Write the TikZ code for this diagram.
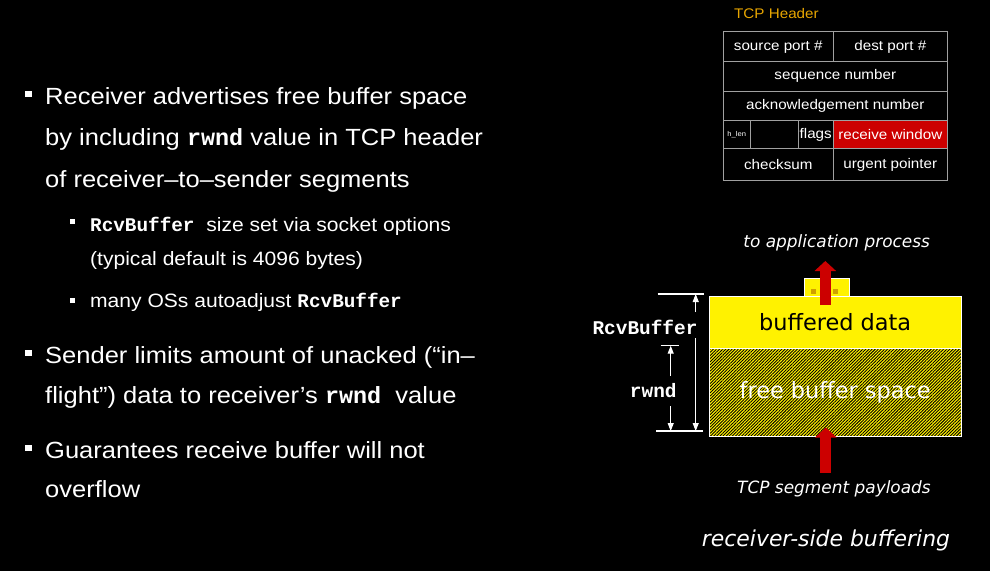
\documentclass[tikz,border=0pt]{standalone}
\usepackage{fontspec}
\setmainfont[FakeStretch=1.09]{Liberation Sans}
\setmonofont{Liberation Mono}
\newfontfamily\vfont{DejaVu Sans}
\usetikzlibrary{arrows.meta,patterns.meta}
\definecolor{hdrorange}{HTML}{E8A600}
\definecolor{winred}{HTML}{CC0000}
\definecolor{cellgray}{HTML}{A0A0A0}
\definecolor{dotgold}{HTML}{D0A000}
\newcommand{\kw}[1]{\textbf{\texttt{#1}}}

\begin{document}
\begin{tikzpicture}[x=1bp,y=-1bp,
  bodytext/.style={anchor=base west, inner sep=0, text=white, font=\fontsize{23.5}{28}\selectfont},
  subtext/.style={anchor=base west, inner sep=0, text=white, font=\fontsize{19.4}{24}\selectfont},
  bigbullet/.style={fill=white, inner sep=0, minimum size=6.5bp},
  smallbullet/.style={fill=white, inner sep=0, minimum size=5bp},
  hdrcell/.style={draw=cellgray, line width=0.8bp, inner sep=0, text=white, font=\fontsize{14}{16}\selectfont},
  vlabel/.style={text=white, inner sep=0, font=\vfont\itshape\fontsize{17}{20}\selectfont},
  dimlabel/.style={text=white, inner sep=0, font=\ttfamily\bfseries\fontsize{19.5}{22}\selectfont},
  dimline/.style={white, line width=1.2bp},
  dimarrow/.style={white, line width=1bp, -{Triangle[length=8bp,width=6bp]}},
  redarrow/.style={winred, line width=11bp, -{Triangle[length=10bp,width=21bp]}}]
\fill[black] (0,0) rectangle (990,571);
\useasboundingbox (0,0) rectangle (990,571);

% bullet list
\node[bigbullet] (b1) at (28.5,94) {};
\node[bodytext] (l1) at (45,105) {Receiver advertises free buffer space};
\node[bodytext] (l2) at (45,146) {by including \kw{rwnd} value in TCP header};
\node[bodytext] (l3) at (45,188) {of receiver–to–sender segments};
\node[smallbullet] (s1) at (72.5,221.5) {};
\node[subtext] (l4) at (90,232) {\kw{RcvBuffer}\ \ size set via socket options};
\node[subtext] (l5) at (90,266) {(typical default is 4096 bytes)};
\node[smallbullet] (s2) at (72.5,300) {};
\node[subtext] (l6) at (90,307) {many OSs autoadjust \kw{RcvBuffer}};
\node[bigbullet] (b2) at (28.5,353) {};
\node[bodytext] (l7) at (45,363) {Sender limits amount of unacked (“in–};
\node[bodytext] (l8) at (45,403) {flight”) data to receiver’s \kw{rwnd}\ \ value};
\node[bigbullet] (b3) at (28.5,448) {};
\node[bodytext] (l9) at (45,458) {Guarantees receive buffer will not};
\node[bodytext] (l10) at (45,497) {overflow};

% TCP header
\node[anchor=base west, inner sep=0, text=hdrorange, font=\fontsize{14}{16}\selectfont] (hdr) at (734,19) {TCP Header};
\node[hdrcell, minimum width=110bp, minimum height=30bp] (src) at (778.3,46.7) {source port \#};
\node[hdrcell, minimum width=114bp, minimum height=30bp] (dst) at (890.3,46.7) {dest port \#};
\node[hdrcell, minimum width=224bp, minimum height=29.3bp] (seq) at (835.3,76.3) {sequence number};
\node[hdrcell, minimum width=224bp, minimum height=29.3bp] (ack) at (835.3,105.7) {acknowledgement number};
\node[hdrcell, minimum width=26.7bp, minimum height=28.4bp, font=\fontsize{7}{8}\selectfont] (hlen) at (736.7,134.5) {h\_len};
\node[hdrcell, minimum width=48bp, minimum height=28.4bp] (unused) at (774,134.5) {};
\node[hdrcell, minimum width=35.3bp, minimum height=28.4bp] (flags) at (815.7,134.5) {flags};
\node[hdrcell, fill=winred, minimum width=114bp, minimum height=28.4bp] (rwin) at (890.3,134.5) {receive window};
\node[hdrcell, minimum width=110bp, minimum height=32bp] (chk) at (778.3,164.7) {checksum};
\node[hdrcell, minimum width=114bp, minimum height=32bp] (urg) at (890.3,164.7) {urgent pointer};

% receive buffer
\node[vlabel, anchor=base] (app) at (836.7,248) {to application process};
\node[draw=white, line width=0.8bp, fill=yellow, inner sep=0, minimum width=45.3bp, minimum height=17.7bp] (tab) at (826.7,287.2) {};
\node[fill=dotgold, inner sep=0, minimum size=5bp] (d1) at (813.5,291.5) {};
\node[fill=dotgold, inner sep=0, minimum size=5bp] (d2) at (835,291.5) {};
\node[draw=white, line width=0.8bp, fill=yellow, inner sep=0, minimum width=251.7bp, minimum height=52.3bp,
  font=\vfont\fontsize{22.5}{26}\selectfont] (buf) at (835.2,322.2) {buffered data};
\node[draw=white, line width=0.8bp, preaction={fill=yellow}, pattern={Lines[angle=45,distance=2.2bp,line width=0.9bp]}, pattern color=black,
  inner sep=0, minimum width=251.7bp, minimum height=87.7bp, text=white,
  font=\vfont\fontsize{22.5}{26}\selectfont] (free) at (835.2,392.2) {free buffer space};
\coordinate (upstart) at (825.3,305);
\coordinate (upend) at (825.3,261);
\draw[redarrow] (upstart) -- (upend);
\coordinate (instart) at (825.8,472.7);
\coordinate (inend) at (825.8,427.5);
\draw[redarrow] (instart) -- (inend);
\node[vlabel, anchor=base] (seg) at (834,493) {TCP segment payloads};
\node[vlabel, anchor=base, font=\vfont\itshape\fontsize{22}{26}\selectfont] (cap) at (826,546) {receiver-side buffering};

% RcvBuffer and rwnd
\node[dimlabel] (rcvlbl) at (645,327.3) {RcvBuffer};
\node[dimlabel] (rwndlbl) at (653.3,390.7) {rwnd};
\coordinate (rtl) at (657.7,294);
\coordinate (rtr) at (704,294);
\coordinate (rbl) at (656,431);
\coordinate (rbr) at (702.7,431);
\coordinate (wtl) at (660.7,345.7);
\coordinate (wtr) at (679.3,345.7);
\draw[dimline] (rtl) -- (rtr);
\draw[dimline] (rbl) -- (rbr);
\draw[dimline] (wtl) -- (wtr);
\coordinate (ra) at (695.7,312);
\coordinate (rb) at (695.7,338);
\draw[dimarrow] (ra) -- (ra |- rtr);
\draw[dimarrow] (rb) -- (rb |- rbr);
\coordinate (wa) at (670.7,376);
\coordinate (wb) at (670.7,406);
\draw[dimarrow] (wa) -- (wa |- wtr);
\draw[dimarrow] (wb) -- (wb |- rbr);
\end{tikzpicture}
\end{document}
